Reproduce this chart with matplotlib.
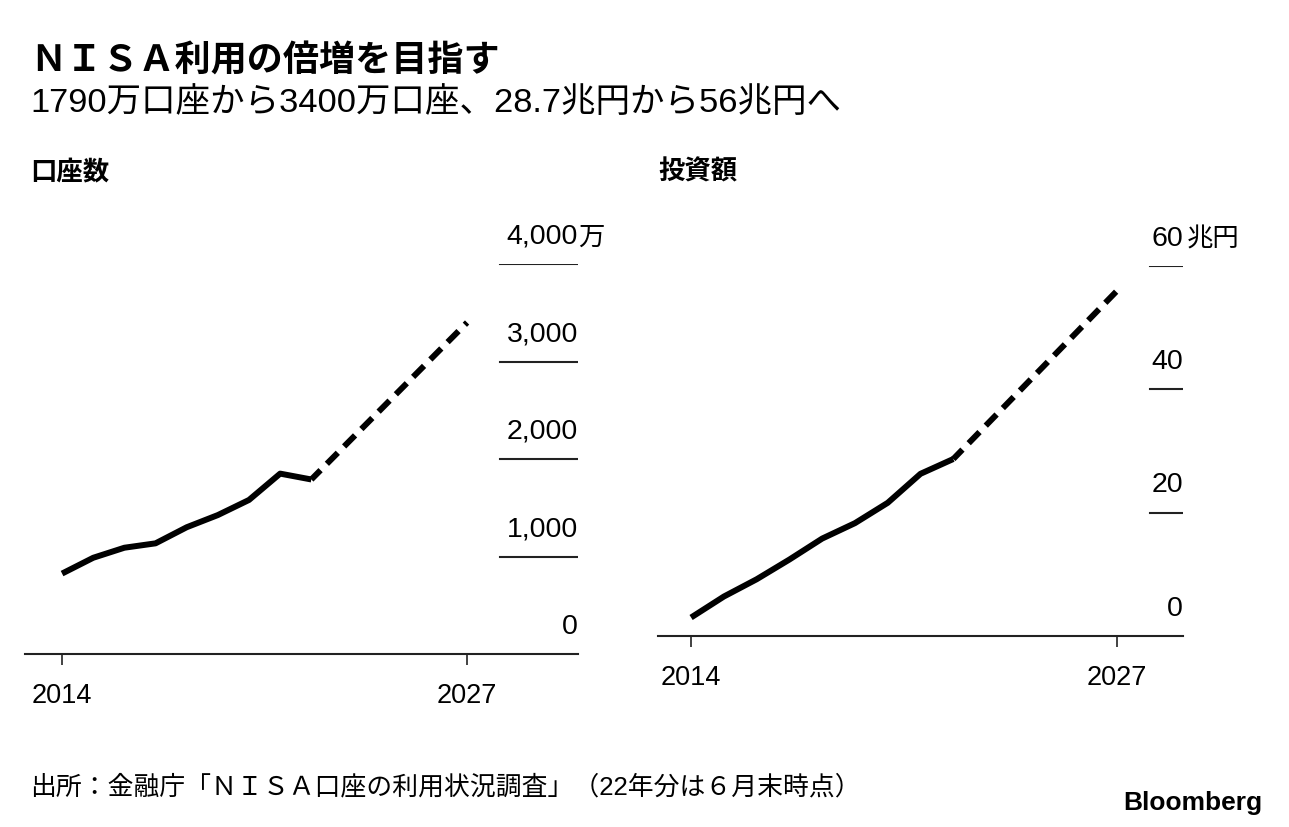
import matplotlib.pyplot as plt
from matplotlib.transforms import blended_transform_factory

# フォント: 数字は Liberation Sans, 日本語は Noto Sans CJK JP
plt.rcParams['font.family'] = ['Liberation Sans', 'Noto Sans CJK JP']

# データ
years = [2014, 2015, 2016, 2017, 2018, 2019, 2020, 2021, 2022]
accounts = [825, 987, 1090, 1135, 1300, 1425, 1580, 1850, 1790]      # 万口座
amounts = [3.0, 6.4, 9.2, 12.4, 15.8, 18.3, 21.6, 26.3, 28.7]         # 兆円
goal_year = 2027
accounts_goal = 3400
amounts_goal = 56

acc_ticks = [0, 1000, 2000, 3000, 4000]
acc_labels = ["0", "1,000", "2,000", "3,000", "4,000"]
amt_ticks = [0, 20, 40, 60]
amt_labels = ["0", "20", "40", "60"]
x_ticks = [2014, 2027]

W, H = 1289, 828
fig = plt.figure(figsize=(W / 100, H / 100), dpi=100)


def px_axes(left, right, top, bottom):
    return fig.add_axes([left / W, 1 - bottom / H, (right - left) / W, (bottom - top) / H])


def setup(ax, xlim, ylim, ticks, labels, unit, unit_gap, tick_start):
    ax.set_xlim(*xlim)
    ax.set_ylim(*ylim)
    for s in ["top", "left", "right"]:
        ax.spines[s].set_visible(False)
    ax.spines["bottom"].set_color("#222222")
    ax.spines["bottom"].set_linewidth(1.5)
    ax.set_yticks([])
    ax.set_xticks(x_ticks)
    ax.set_xticklabels([str(t) for t in x_ticks])
    ax.tick_params(axis="x", length=8, width=1.2, color="#222222", pad=12, labelsize=19.5)
    trans = blended_transform_factory(ax.transAxes, ax.transData)
    for v, lab in zip(ticks, labels):
        if v != 0:
            ax.axhline(v, xmin=tick_start, xmax=1, color="#222222", lw=1.5)
        ax.annotate(lab, xy=(1, v), xycoords=trans, xytext=(0, 11),
                    textcoords="offset points", ha="right", va="bottom", fontsize=20.5)
        if v == ticks[-1]:
            ax.annotate(unit, xy=(1, v), xycoords=trans, xytext=(unit_gap, 11),
                        textcoords="offset points", ha="left", va="bottom", fontsize=19)


line_kw = dict(color="black", lw=4.3, solid_capstyle="butt", solid_joinstyle="round")
dash_kw = dict(color="black", lw=4.3, linestyle=(0.4, (2.6, 1.5)), dash_capstyle="butt")

# 口座数
ax1 = px_axes(25, 578, 265, 655)
setup(ax1, (2012.81, 2030.56), (0, 4000), acc_ticks, acc_labels, "万", 0, 0.859)
ax1.plot(years, accounts, **line_kw)
ax1.plot([years[-1], goal_year], [accounts[-1], accounts_goal], **dash_kw)

# 投資額
ax2 = px_axes(658, 1183, 267, 637)
setup(ax2, (2012.99, 2029.01), (0, 60), amt_ticks, amt_labels, "兆円", 3, 0.937)
ax2.plot(years, amounts, **line_kw)
ax2.plot([years[-1], goal_year], [amounts[-1], amounts_goal], **dash_kw)

# タイトル
fig.text(30 / W, 1 - 62 / H, "ＮＩＳＡ利用の倍増を目指す", fontsize=26, fontweight="bold", va="center")
fig.text(30 / W, 1 - 103 / H, "1790万口座から3400万口座、28.7兆円から56兆円へ", fontsize=24.8, va="center")
fig.text(30 / W, 1 - 172 / H, "口座数", fontsize=19, fontweight="bold", va="center")
fig.text(658 / W, 1 - 172 / H, "投資額", fontsize=19, fontweight="bold", va="center")

# 出所
fig.text(30 / W, 1 - 787 / H, "出所：金融庁「ＮＩＳＡ口座の利用状況調査」（22年分は６月末時点）",
         fontsize=18.6, va="center")
fig.text(1262 / W, 1 - 803 / H, "Bloomberg", fontsize=19, fontweight="bold", ha="right", va="center")

plt.savefig("out.png", dpi=100)
